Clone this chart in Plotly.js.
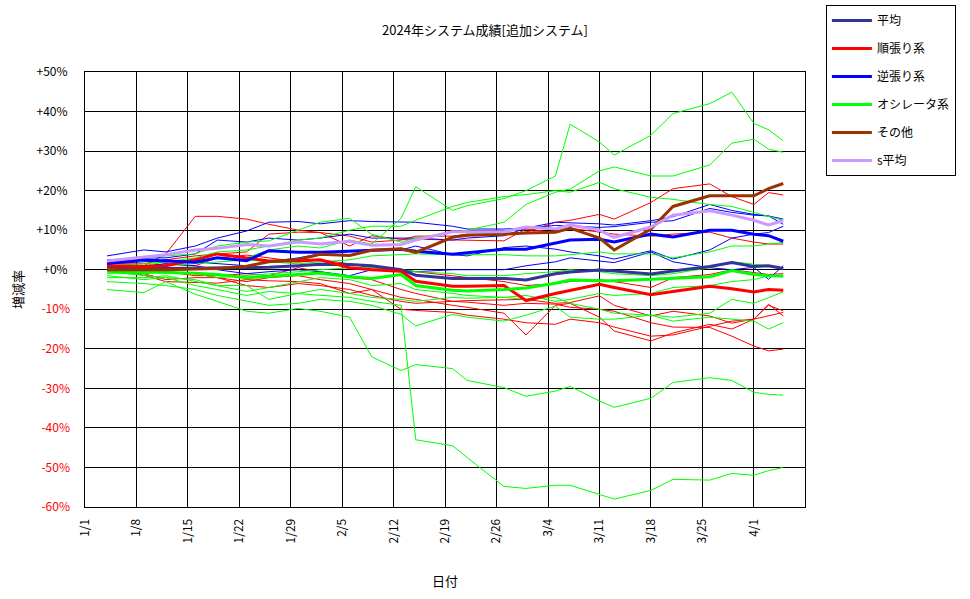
<!DOCTYPE html>
<html>
<head>
<meta charset="utf-8">
<script src="https://cdn.plot.ly/plotly-3.0.1.min.js"></script>
<style>
  html, body { margin: 0; padding: 0; background: #fff; }
  #chart { width: 970px; height: 599px; }
</style>
</head>
<body>
<div id="chart"></div>
<script>
// 日付(営業日から抜き出し)
const dates = [
  "2024-01-04", "2024-01-09", "2024-01-12", "2024-01-16", "2024-01-19", "2024-01-23", "2024-01-26",
  "2024-01-30", "2024-02-02", "2024-02-06", "2024-02-09", "2024-02-13", "2024-02-15", "2024-02-20",
  "2024-02-22", "2024-02-27", "2024-03-01", "2024-03-05", "2024-03-07", "2024-03-11", "2024-03-13",
  "2024-03-18", "2024-03-21", "2024-03-26", "2024-03-29", "2024-04-01", "2024-04-03", "2024-04-05"
]

// 太線(凡例あり) 単位: %
const avg      = [0.8, 0.3, 0.3, 0.4, 0.5, 0.5, 0.6, 1.0, 1.4, 1.3, 1.0, 0.0, -1.4, -2.2, -2.2, -2.2, -2.6, -1.0, -0.6, -0.1, -0.3, -1.1, -0.3, 0.8, 1.8, 0.8, 1.0, 0.3]
const trend    = [1.0, 0.8, 1.0, 2.5, 4.0, 3.0, 2.2, 2.2, 2.5, 0.5, 0.0, -0.4, -2.9, -4.2, -4.2, -4.0, -7.8, -6.0, -5.2, -3.7, -4.5, -6.3, -5.5, -4.2, -4.8, -5.6, -5.0, -5.2]
const contra   = [1.6, 2.5, 2.2, 1.9, 3.0, 2.3, 4.8, 4.4, 4.4, 4.7, 5.0, 5.2, 4.7, 3.9, 4.3, 5.2, 5.2, 6.8, 7.5, 7.7, 7.0, 9.0, 8.3, 10.0, 10.0, 9.0, 8.6, 7.2]
const osc      = [-0.3, -0.5, -0.6, -0.9, -1.2, -2.0, -1.7, -1.2, -0.8, -1.8, -2.2, -1.2, -4.0, -5.2, -5.4, -5.0, -4.6, -3.4, -2.6, -2.8, -2.8, -2.4, -2.2, -1.8, -0.2, -1.2, -1.5, -1.6]
const other    = [0.0, 0.0, 0.0, 0.2, 0.3, 0.9, 2.0, 2.6, 3.9, 3.6, 4.9, 5.3, 4.4, 8.2, 8.7, 9.0, 9.3, 9.5, 10.5, 8.0, 5.0, 10.3, 16.0, 18.7, 18.7, 18.7, 20.5, 21.8]
const sAvg     = [2.2, 3.3, 3.8, 5.0, 5.4, 6.4, 6.0, 7.0, 6.5, 7.2, 6.2, 6.4, 7.5, 9.6, 9.6, 9.6, 10.8, 10.3, 11.3, 10.0, 8.2, 10.8, 13.8, 14.9, 13.8, 12.5, 11.3, 12.4]

// 細線: 個別システム
const trendSystems = [
  [0.6, 1.0, 4.0, 13.5, 13.5, 12.8, 11.5, 10.0, 9.4, 8.5, 7.0, 7.5, 8.5, 8.5, 9.0, 9.0, 9.5, 12.0, 12.5, 14.0, 12.8, 17.0, 20.5, 21.7, 18.5, 16.5, 19.5, 18.9],
  [0.0, -1.4, -3.0, -3.2, -3.4, -2.5, -2.8, -3.0, -3.5, -6.0, -5.0, -7.0, -7.5, -9.0, -9.5, -11.0, -16.5, -9.0, -8.5, -12.0, -15.5, -18.0, -16.0, -13.8, -15.0, -12.5, -8.7, -11.7],
  [-0.5, -1.0, -2.5, -2.0, -2.0, -4.0, -4.5, -3.5, -4.0, -5.0, -6.5, -8.0, -8.5, -8.0, -8.2, -9.0, -8.5, -8.7, -9.5, -10.0, -10.5, -13.4, -14.5, -14.6, -16.8, -19.3, -20.5, -20.1],
  [0.5, 0.0, -0.5, -1.0, -2.0, -3.0, -2.0, -1.5, -2.5, -3.5, -5.0, -10.0, -10.3, -10.8, -11.5, -12.5, -13.4, -13.8, -12.5, -13.4, -14.5, -16.8, -16.5, -14.2, -13.0, -12.5, -11.7, -10.8],
  [1.5, 1.5, 2.5, 3.5, 4.0, 4.5, 9.0, 9.5, 9.4, 6.0, 8.6, 7.7, 7.7, 7.5, 7.5, 7.3, 10.3, 9.4, 10.5, 9.5, 9.0, 8.5, 9.0, 9.5, 8.0, 7.0, 6.5, 6.5],
  [0.0, -0.5, -0.5, -1.5, -1.5, -1.0, -1.5, 0.5, -0.5, -2.0, -2.5, -5.0, -6.0, -8.0, -7.8, -7.5, -7.5, -8.5, -8.3, -6.6, -9.0, -11.7, -10.5, -11.7, -13.5, -12.5, -9.0, -10.4],
  [0.5, 0.8, 1.5, 1.0, 3.0, 3.7, 3.0, 2.0, 2.5, 1.5, 0.5, 0.0, -0.5, -1.5, -2.0, -3.0, -4.0, -3.5, -3.0, -2.5, -3.0, -4.5, -2.0, -1.2, 0.0, -0.8, -1.2, -1.0]
]
const contraSystems = [
  [3.5, 5.0, 4.5, 6.0, 8.0, 9.8, 12.0, 12.2, 11.6, 12.4, 12.2, 12.0, 12.0, 11.0, 10.3, 10.3, 10.5, 12.0, 11.9, 11.6, 11.3, 12.4, 13.4, 16.5, 15.0, 14.0, 13.6, 12.8],
  [2.5, 3.0, 3.0, 4.0, 7.5, 7.0, 8.0, 7.5, 8.0, 9.0, 8.0, 8.0, 8.0, 7.5, 8.0, 8.6, 10.5, 11.2, 11.0, 10.7, 10.9, 12.0, 12.4, 15.5, 14.5, 13.8, 13.6, 11.5],
  [1.5, 2.0, 2.5, 2.0, 1.5, 1.0, 2.0, 3.0, 4.0, 4.5, 5.0, 5.0, 6.0, 3.8, 3.5, 5.6, 6.0, 5.2, 4.5, 3.5, 2.7, 4.8, 2.7, 5.0, 8.0, 9.0, 9.4, 11.0],
  [0.5, 1.0, 1.5, 1.0, 0.0, -1.0, -0.5, 0.0, -0.5, -1.5, 0.0, 0.0, -0.5, 0.0, 0.0, 0.0, 1.0, 2.0, 3.0, 2.2, 1.8, 4.5, 2.0, 0.5, 0.0, 0.6, -2.4, 1.0]
]
const oscSystems = [
  [0.5, 1.0, 2.0, 2.5, 4.0, 3.0, 5.0, 6.0, 5.5, 7.5, 6.5, 13.0, 21.0, 15.0, 16.2, 18.0, 20.0, 23.7, 36.8, 32.3, 29.0, 34.0, 39.5, 42.0, 44.9, 37.0, 35.4, 32.6],
  [2.0, 3.0, 3.5, 4.0, 6.0, 7.0, 7.3, 10.0, 12.0, 13.0, 9.0, 7.0, 8.0, 9.5, 10.0, 12.0, 16.5, 19.6, 20.4, 25.0, 26.0, 23.7, 23.7, 26.5, 32.0, 33.0, 30.5, 29.7],
  [1.0, 1.5, 2.0, 3.0, 4.5, 5.0, 6.0, 7.5, 8.0, 10.0, 11.0, 11.0, 12.5, 16.0, 17.0, 18.5, 19.0, 20.0, 19.6, 22.1, 20.5, 18.3, 17.8, 16.5, 16.0, 14.5, 13.6, 12.5],
  [0.5, 1.0, 1.0, 1.5, 2.0, 2.5, 2.0, 1.5, 2.0, 2.5, 3.5, 3.8, 4.0, 3.8, 3.8, 3.8, 3.5, 3.5, 3.8, 4.5, 4.0, 4.0, 3.0, 4.5, 6.0, 6.0, 6.5, 6.9],
  [-1.0, -1.0, -0.5, -1.0, -2.0, -1.5, -1.0, -0.5, 0.0, 0.5, 0.5, 0.0, -0.5, -1.0, -1.5, -1.5, -1.0, -0.5, 0.0, -0.5, -1.0, -1.5, -1.0, 0.5, 2.0, 1.5, 1.0, 0.5],
  [-5.0, -5.8, -3.0, -6.2, -8.0, -10.5, -11.0, -9.8, -10.5, -12.0, -22.0, -25.5, -24.0, -25.0, -28.0, -29.8, -32.0, -30.7, -29.5, -33.2, -34.8, -32.5, -28.5, -27.3, -28.0, -31.0, -31.5, -31.7],
  [-1.5, -2.5, -2.0, -4.0, -5.0, -6.5, -5.5, -6.0, -6.5, -7.0, -8.0, -9.0, -43.0, -44.5, -47.5, -54.8, -55.3, -54.5, -54.5, -56.8, -58.0, -55.8, -53.0, -53.2, -51.5, -52.0, -50.8, -50.0],
  [-2.0, -2.0, -1.5, -3.0, -4.0, -5.5, -4.5, -3.0, -2.0, -2.5, -4.0, -3.5, -5.0, -6.0, -6.5, -7.0, -7.5, -7.0, -8.5, -10.0, -11.0, -11.5, -12.0, -11.0, -7.5, -8.5, -7.0, -5.6],
  [-3.0, -3.5, -4.0, -5.0, -6.5, -8.0, -9.0, -8.5, -7.5, -8.0, -9.0, -11.3, -14.2, -11.3, -12.0, -13.0, -11.5, -9.2, -12.0, -12.5, -12.5, -11.5, -13.0, -12.0, -12.5, -13.0, -15.0, -13.4],
  [-0.5, -1.5, -2.0, -2.5, -4.0, -4.0, -7.5, -6.0, -5.0, -6.0, -7.0, -7.5, -8.0, -7.0, -7.2, -7.0, -6.5, -8.0, -7.5, -6.0, -6.5, -6.0, -4.5, -4.0, -3.0, -2.5, -1.5, -1.8]
]

const posTicks = [0, 10, 20, 30, 40, 50]
const negTicks = [-60, -50, -40, -30, -20, -10]

const FONT = "'Noto Sans CJK JP', 'DejaVu Sans', sans-serif"

const traces = []
// 負の目盛ラベルは赤(第2軸に空の系列を置いて軸を描かせる)
traces.push({ x: [dates[0]], y: [null], yaxis: "y2", type: "scatter", mode: "lines", showlegend: false, hoverinfo: "skip" })

const thin = (values, color) => ({
  x: dates, y: values, type: "scatter", mode: "lines",
  line: { color: color, width: 1 }, showlegend: false, hoverinfo: "skip"
})
trendSystems.forEach((v) => traces.push(thin(v, "#ff0000")))
contraSystems.forEach((v) => traces.push(thin(v, "#0000ff")))
oscSystems.forEach((v) => traces.push(thin(v, "#00ff00")))

const thick = (values, color, name) => ({
  x: dates, y: values, type: "scatter", mode: "lines", name: name, legendgroup: name,
  line: { color: color, width: 3 }
})
traces.push(thick(avg, "#333399", "平均"))
traces.push(thick(trend, "#ff0000", "順張り系"))
traces.push(thick(contra, "#0000ff", "逆張り系"))
traces.push(thick(osc, "#00ff00", "オシレータ系"))
traces.push(thick(other, "#993300", "その他"))
traces.push(thick(sAvg, "#cc99ff", "s平均"))

const layout = {
  width: 970, height: 599,
  margin: { l: 85, r: 165, t: 72, b: 92, autoexpand: false },
  paper_bgcolor: "#ffffff", plot_bgcolor: "#ffffff",
  font: { family: FONT, size: 12, color: "#000000" },
  title: {
    text: "2024年システム成績[追加システム]",
    font: { size: 13, color: "#000000" },
    xref: "container", x: 0.5, xanchor: "center",
    yref: "container", y: 0.95, yanchor: "middle"
  },
  xaxis: {
    type: "date",
    range: ["2024-01-01", "2024-04-07 23:00"],
    tick0: "2024-01-01", dtick: 7 * 86400000,
    tickformat: "%-m/%-d", tickangle: -90,
    showgrid: true, gridcolor: "#000000", gridwidth: 1,
    showline: true, linecolor: "#000000", linewidth: 1, mirror: true,
    ticks: "", ticklabelstandoff: 6,
    zeroline: false,
    title: { text: "日付", font: { size: 13, color: "#000000" }, standoff: 34 }
  },
  yaxis: {
    range: [-60, 50],
    tickvals: posTicks, ticktext: posTicks.map((v) => "+" + v + "%"),
    tickfont: { color: "#000000" },
    showgrid: true, gridcolor: "#000000", gridwidth: 1,
    showline: true, linecolor: "#000000", linewidth: 1, mirror: true,
    zeroline: false, ticks: "", ticklabelstandoff: 14,
    title: { text: "増減率", font: { size: 13, color: "#000000" }, standoff: 10 }
  },
  yaxis2: {
    overlaying: "y", side: "left",
    range: [-60, 50],
    tickvals: negTicks, ticktext: negTicks.map((v) => v + "%"),
    tickfont: { color: "#ff0000" },
    showgrid: true, gridcolor: "#000000", gridwidth: 1,
    showline: false, zeroline: false, ticks: "", ticklabelstandoff: 14
  },
  showlegend: true,
  legend: {
    x: 1.029, xanchor: "left", y: 1.154, yanchor: "top",
    bgcolor: "#ffffff", bordercolor: "#000000", borderwidth: 1,
    font: { size: 12, color: "#000000" }, tracegroupgap: 9, traceorder: "grouped",
    itemwidth: 40
  }
}

Plotly.newPlot("chart", traces, layout, { displayModeBar: false, staticPlot: true })
</script>
</body>
</html>
